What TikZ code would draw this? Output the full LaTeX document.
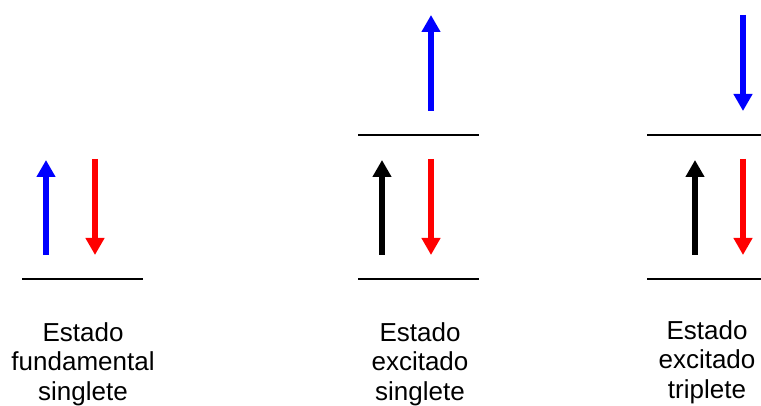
\documentclass[tikz,border=0pt]{standalone}
\usepackage{fontspec}
\setmainfont{Liberation Sans}
\usetikzlibrary{arrows.meta}
\begin{document}
\begin{tikzpicture}[x=1pt,y=-1pt,
  level/.style={line width=2pt,black},
  spin/.style={line width=6pt,-{Triangle[width=18pt,length=17pt]}},
  label/.style={align=center,anchor=base,inner sep=0pt,
    font=\fontsize{26}{29.2}\selectfont}]
\useasboundingbox (0,0) rectangle (761,406);

% energy levels
\coordinate (g1a) at (22,279);  \coordinate (g1b) at (143,279);
\coordinate (s1a) at (358,279); \coordinate (s1b) at (479,279);
\coordinate (s2a) at (358,135); \coordinate (s2b) at (479,135);
\coordinate (t1a) at (647,279); \coordinate (t1b) at (761,279);
\coordinate (t2a) at (647,135); \coordinate (t2b) at (761,135);
\draw[level] (g1a) -- (g1b);
\draw[level] (s1a) -- (s1b);
\draw[level] (s2a) -- (s2b);
\draw[level] (t1a) -- (t1b);
\draw[level] (t2a) -- (t2b);

% ground state singlet
\coordinate (a1s) at (46,255);  \coordinate (a1e) at (46,160);
\coordinate (b1s) at (95,159);  \coordinate (b1e) at (95,255);
\draw[spin,blue] (a1s) -- (a1e);
\draw[spin,red] (b1s) -- (b1e);

% excited singlet
\coordinate (a2s) at (382,255); \coordinate (a2e) at (382,160);
\coordinate (b2s) at (431,159); \coordinate (b2e) at (431,255);
\coordinate (c2s) at (431,111); \coordinate (c2e) at (431,15);
\draw[spin,black] (a2s) -- (a2e);
\draw[spin,red] (b2s) -- (b2e);
\draw[spin,blue] (c2s) -- (c2e);

% excited triplet
\coordinate (a3s) at (695,255); \coordinate (a3e) at (695,160);
\coordinate (b3s) at (743,159); \coordinate (b3e) at (743,255);
\coordinate (c3s) at (743,15);  \coordinate (c3e) at (743,111);
\draw[spin,black] (a3s) -- (a3e);
\draw[spin,red] (b3s) -- (b3e);
\draw[spin,blue] (c3s) -- (c3e);

% captions (anchored at the baseline of the last line)
\node[label] (l1) at (83,400) {Estado\\fundamental\\singlete};
\node[label] (l2) at (420,400) {Estado\\excitado\\singlete};
\node[label] (l3) at (707,398) {Estado\\excitado\\triplete};
\end{tikzpicture}
\end{document}
